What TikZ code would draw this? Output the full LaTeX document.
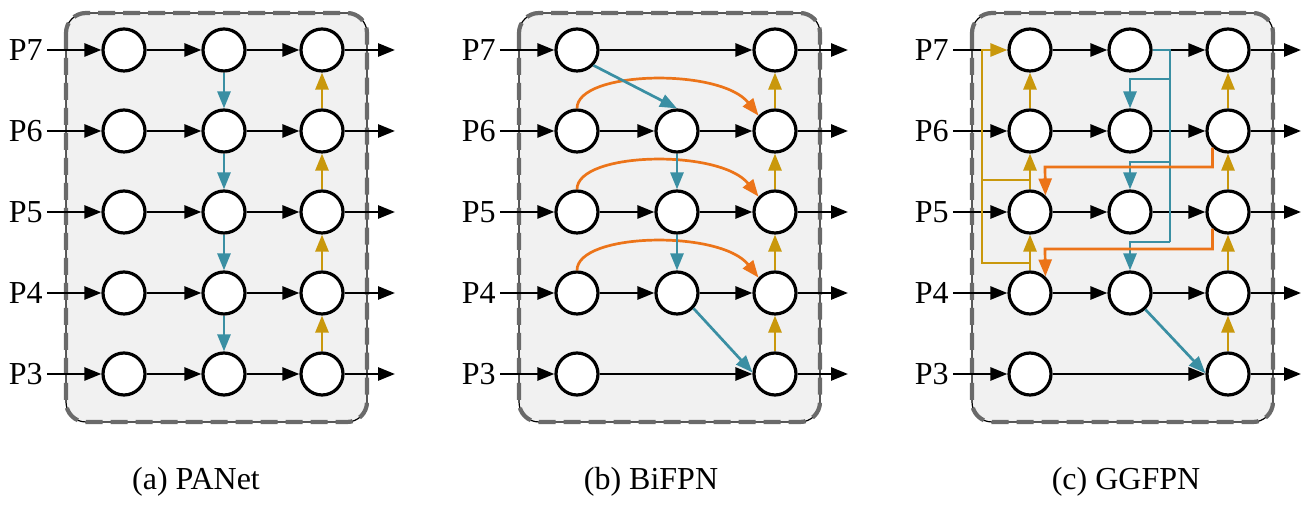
\documentclass[tikz,border=0pt]{standalone}
\usepackage{fontspec}
\setmainfont{Liberation Serif}
\newfontfamily\labelserif{Liberation Serif}
\usetikzlibrary{arrows.meta}
\definecolor{fteal}{HTML}{3A8FA3}
\definecolor{fgold}{HTML}{C9980C}
\definecolor{forange}{HTML}{EC7419}
\definecolor{framegray}{HTML}{6A6A6A}
\definecolor{panelfill}{HTML}{F1F1F1}
\tikzset{
  cir/.style={circle, draw, line width=1.6pt, fill=white, minimum size=21pt, inner sep=0pt},
  lbl/.style={anchor=east, inner sep=2pt, font=\labelserif\fontsize{16}{19}\selectfont},
  captxt/.style={anchor=base, inner sep=0pt, font=\labelserif\fontsize{16}{19}\selectfont},
  headtri/.style={-{Triangle[length=8.5pt,width=6.5pt]}},
  blk/.style={line width=1.35pt, headtri},
  blkln/.style={line width=1.35pt},
  tealarr/.style={line width=1.35pt, fteal, headtri},
  tealln/.style={line width=1.35pt, fteal},
  goldarr/.style={line width=1.35pt, fgold, headtri},
  goldln/.style={line width=1.35pt, fgold},
  orgarr/.style={line width=1.35pt, forange, headtri},
}
% rounded dashed frame behind each network
\newcommand{\netframe}{%
  \fill[panelfill, rounded corners=10pt] (66,13) rectangle (367,422);
  \draw[black, line width=0.6pt, rounded corners=10pt] (66,13) rectangle (367,422);
  \draw[framegray, line width=2.1pt, dash pattern=on 8.5pt off 4pt, rounded corners=10pt] (66,13) rectangle (367,422);
}
\begin{document}
\begin{tikzpicture}[x=0.5pt, y=-0.5pt]
\useasboundingbox (0,0) rectangle (1313,506);

% ---------------- (a) PANet ----------------
\begin{scope}
\netframe
\foreach \r/\y in {7/50,6/131,5/212,4/293,3/374}{
  \node[lbl] (aL\r) at (47,\y) {P\r};
  \node[cir] (a\r1) at (124,\y) {};
  \node[cir] (a\r2) at (224,\y) {};
  \node[cir] (a\r3) at (322,\y) {};
  \coordinate (aO\r) at (395,\y);
  \draw[blk] (aL\r.east |- a\r1) -- (a\r1);
  \draw[blk] (a\r1) -- (a\r2);
  \draw[blk] (a\r2) -- (a\r3);
  \draw[blk] (a\r3) -- (aO\r);
}
\draw[tealarr] (a72) -- (a62);
\draw[tealarr] (a62) -- (a52);
\draw[tealarr] (a52) -- (a42);
\draw[tealarr] (a42) -- (a32);
\draw[goldarr] (a33) -- (a43);
\draw[goldarr] (a43) -- (a53);
\draw[goldarr] (a53) -- (a63);
\draw[goldarr] (a63) -- (a73);
\node[captxt] (capa) at (196,490) {(a) PANet};
\end{scope}

% ---------------- (b) BiFPN ----------------
\begin{scope}[shift={(453,0)}]
\netframe
\foreach \r/\y in {7/50,6/131,5/212,4/293,3/374}{
  \node[lbl] (bL\r) at (47,\y) {P\r};
  \node[cir] (b\r1) at (124,\y) {};
  \node[cir] (b\r3) at (322,\y) {};
  \coordinate (bO\r) at (395,\y);
  \draw[blk] (bL\r.east |- b\r1) -- (b\r1);
  \draw[blk] (b\r3) -- (bO\r);
}
\foreach \r/\y in {6/131,5/212,4/293}{
  \node[cir] (b\r2) at (224,\y) {};
  \draw[blk] (b\r1) -- (b\r2);
  \draw[blk] (b\r2) -- (b\r3);
  \draw[orgarr] (b\r1.north) .. controls +(0,-38) and +(-38,-48) .. (b\r3.137);
}
\draw[blk] (b71) -- (b73);
\draw[blk] (b31) -- (b33);
\draw[tealarr] (b71.-43) -- (b62.north);
\draw[tealarr] (b62) -- (b52);
\draw[tealarr] (b52) -- (b42);
\draw[tealarr] (b42.-43) -- (b33.176);
\draw[goldarr] (b33) -- (b43);
\draw[goldarr] (b43) -- (b53);
\draw[goldarr] (b53) -- (b63);
\draw[goldarr] (b63) -- (b73);
\node[captxt] (capb) at (198,490) {(b) BiFPN};
\end{scope}

% ---------------- (c) GGFPN ----------------
\begin{scope}[shift={(906,0)}]
\netframe
\foreach \r/\y in {7/50,6/131,5/212,4/293,3/374}{
  \node[lbl] (cL\r) at (47,\y) {P\r};
  \node[cir] (c\r1) at (124,\y) {};
  \node[cir] (c\r3) at (322,\y) {};
  \coordinate (cO\r) at (395,\y);
  \draw[blk] (c\r3) -- (cO\r);
}
\foreach \r/\y in {7/50,6/131,5/212,4/293}{
  \node[cir] (c\r2) at (224,\y) {};
  \draw[blk] (c\r1) -- (c\r2);
  \draw[blk] (c\r2) -- (c\r3);
}
\foreach \r in {6,5,4,3}{
  \draw[blk] (cL\r.east |- c\r1) -- (c\r1);
}
\draw[blk] (c31) -- (c33);
% gold bypass on the first column
\coordinate (cgin) at (76,50);
\coordinate (cgb4) at (124,263);
\coordinate (cgb5) at (124,180);
\coordinate (cgv4) at (76,263);
\coordinate (cgv5) at (76,180);
\draw[blkln] (cL7.east |- c71) -- (cgin);
\draw[goldarr] (c41) -- (c51);
\draw[goldarr] (c51) -- (c61);
\draw[goldarr] (c61) -- (c71);
\draw[goldln] (cgb5) -- (cgv5);
\draw[goldarr] (cgb4) -- (cgv4) -- (cgin) -- (c71);
% teal top-down branches from P7
\coordinate (ctt) at (264,50);
\coordinate (ct6) at (264,79);
\coordinate (ct5) at (264,162);
\coordinate (ct4) at (264,242);
\draw[tealln] (c72.east) -- (ctt) -- (ct4);
\draw[tealarr] (ct6) -| (c62.north);
\draw[tealarr] (ct5) -| (c52.north);
\draw[tealarr] (ct4) -| (c42.north);
\draw[tealarr] (c42.-47) -- (c33.178);
% orange skip links
\coordinate (co6) at (139,167);
\coordinate (co5) at (139,249);
\draw[orgarr] (c63.-133) |- (co6) -- (c51.47);
\draw[orgarr] (c53.-133) |- (co5) -- (c41.47);
% gold bottom-up on the last column
\draw[goldarr] (c33) -- (c43);
\draw[goldarr] (c43) -- (c53);
\draw[goldarr] (c53) -- (c63);
\draw[goldarr] (c63) -- (c73);
\node[captxt] (capc) at (220,490) {(c) GGFPN};
\end{scope}
\end{tikzpicture}
\end{document}
